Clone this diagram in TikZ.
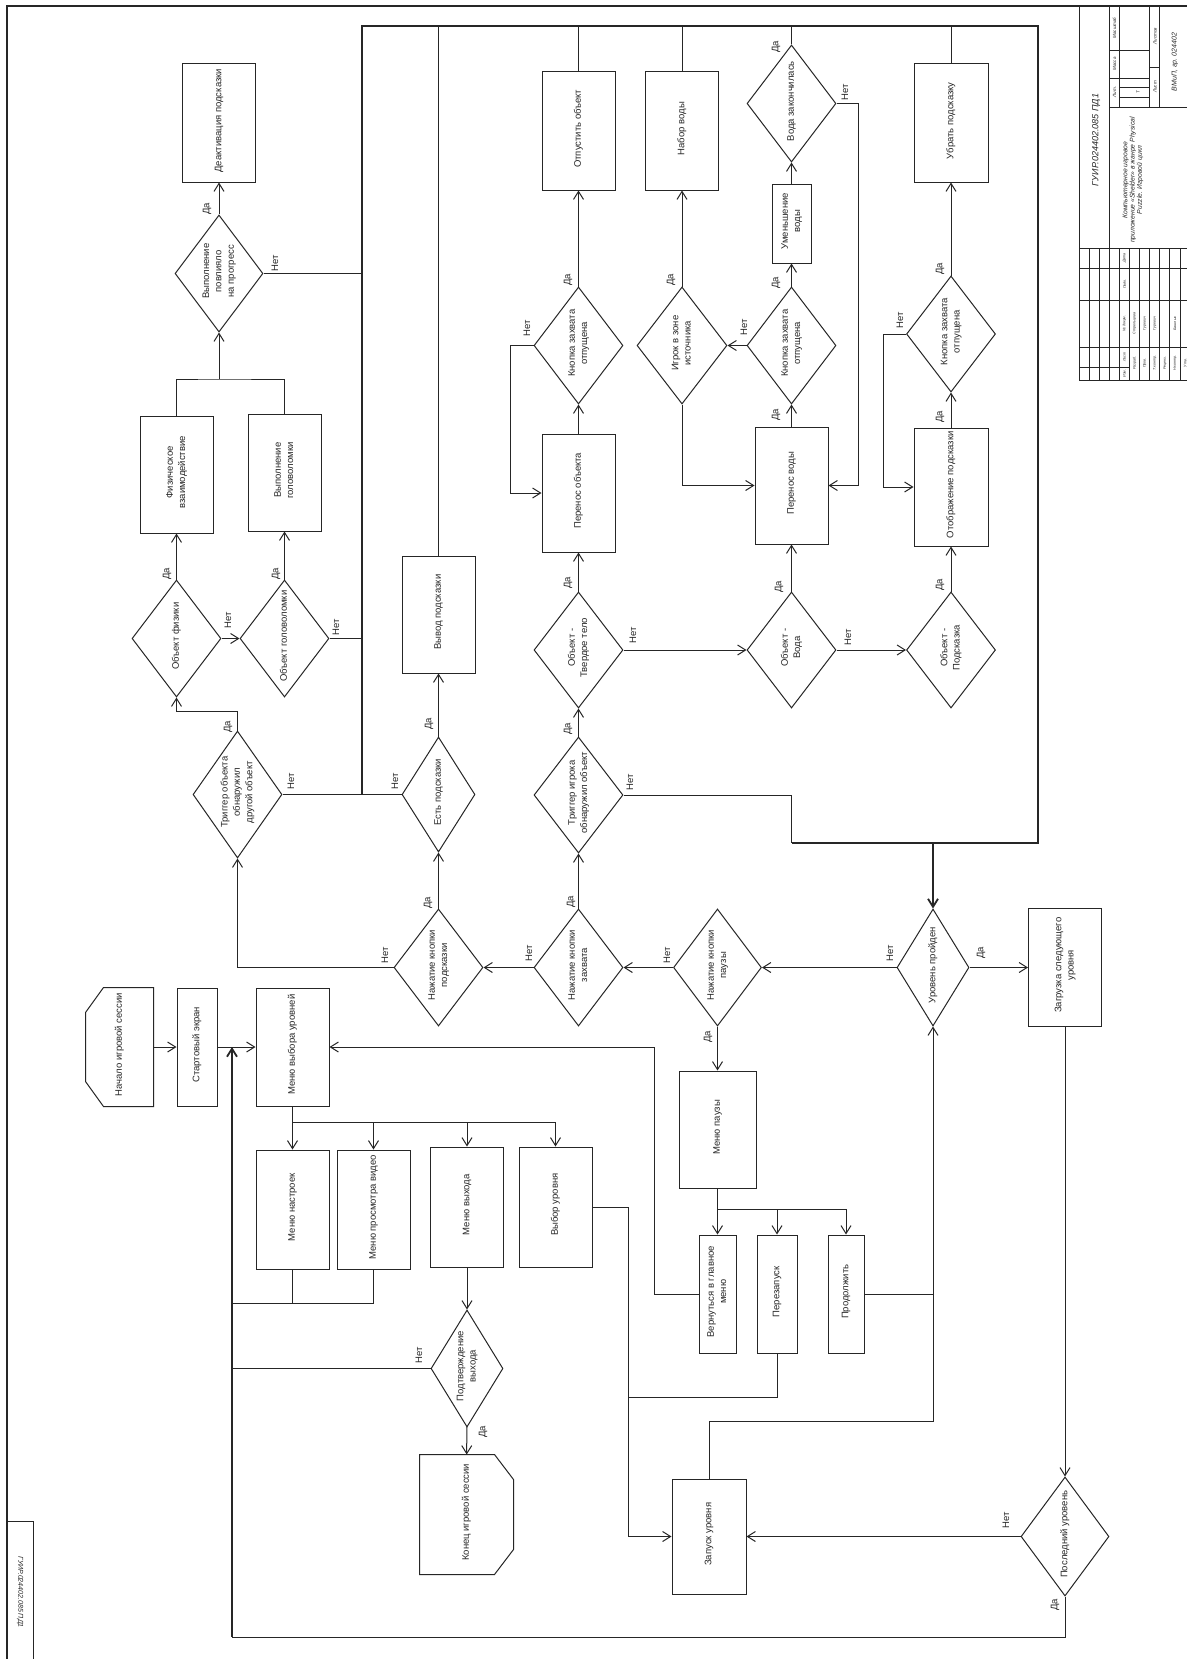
\documentclass[tikz,border=0pt]{standalone}
\usepackage{fontspec}
\setmainfont{Liberation Sans}
\usepackage{graphicx}
\usetikzlibrary{shapes.geometric,arrows.meta,calc}
\newcommand{\rtx}[1]{\makebox[0pt]{\smash{\rotatebox[origin=c]{90}{\begin{tabular}{@{}c@{}}#1\end{tabular}}}}}
\newcommand{\mf}{\fontsize{9.5pt}{12.3pt}\selectfont}
\begin{document}
\begin{tikzpicture}[x=1pt,y=-1pt,line width=1pt,color=black!85,
  bx/.style 2 args={rectangle,draw,minimum width=#1pt,minimum height=#2pt,inner sep=0pt,font=\mf},
  dm/.style 2 args={diamond,draw,minimum width=#1pt,minimum height=#2pt,inner sep=0pt,font=\mf},
  ph/.style 2 args={rectangle,draw=none,minimum width=#1pt,minimum height=#2pt,inner sep=0pt,font=\mf},
  lbl/.style={rotate=90,inner sep=0pt,font=\mf},
  tb/.style={rotate=90,inner sep=0pt,font=\fontsize{3.6pt}{4pt}\selectfont\itshape},
  tbh/.style={rotate=90,inner sep=0pt,font=\fontsize{4.5pt}{5pt}\selectfont\itshape},
  arr/.style={-{Straight Barb[length=8pt,width=10pt]}},
  main/.style={line width=1.8pt}]
\useasboundingbox (0,0) rectangle (1186,1659);
\fill[white] (0,0) rectangle (1186,1659);
% frame
\draw[line width=1.2pt] (7,1670) -- (7,6) -- (1200,6);
\draw (7,1521) -- (33,1521) -- (33,1670);
\node[rotate=-90,inner sep=0pt,font=\fontsize{7pt}{8pt}\selectfont\itshape] (stamp) at (20,1592) {ГУИР.024402.085 ПД1};
% title block
\begin{scope}[line width=0.9pt]
\draw (1079,6) -- (1079,380) -- (1200,380);
\foreach \yy in {248,268,300,347} \draw (1079,\yy) -- (1200,\yy);
\draw (1079,367) -- (1129.5,367);
\foreach \k in {1,...,10} \draw ({1079+10.1*\k},248) -- ({1079+10.1*\k},380);
\draw (1109.3,6) -- (1109.3,248);
\draw (1109.3,107) -- (1200,107);
\draw (1119.4,6) -- (1119.4,107);
\draw (1149.7,6) -- (1149.7,107);
\draw (1159.8,6) -- (1159.8,107);
\draw (1109.3,78) -- (1149.7,78);
\draw (1109.3,50) -- (1149.7,50);
\draw (1119.4,97.3) -- (1149.7,97.3);
\draw (1119.4,87.7) -- (1149.7,87.7);
\draw (1149.7,67) -- (1159.8,67);
\end{scope}
\node[rotate=90,inner sep=0pt,font=\fontsize{9pt}{10pt}\selectfont\itshape] (tb1) at (1096,140) {ГУИР.024402.085 ПД1};
\node[rotate=90,inner sep=0pt,align=center,font=\fontsize{6.8pt}{7.2pt}\selectfont\itshape] (tb2) at (1133,180) {Компьютерное игровое\\приложение «Shelder» в жанре Physical\\Puzzle. Игровой цикл};
\node[tbh] (tb3) at (1114.5,92) {Лит.};
\node[tbh] (tb4) at (1114.5,64) {Масса};
\node[tbh] (tb5) at (1114.5,28) {Масштаб};
\node[tbh] (tb6) at (1138,92) {Т};
\node[tbh] (tb7) at (1155,87) {Лист};
\node[tbh] (tb8) at (1155,36) {Листов};
\node[rotate=90,inner sep=0pt,font=\fontsize{7pt}{8pt}\selectfont\itshape] (tb9) at (1175,62) {ВМиП, гр. 024402};
\node[tb] (s1) at (1124.5,373.5) {Изм.};
\node[tb] (s2) at (1124.5,357) {Лист};
\node[tb] (s3) at (1124.5,323.5) {№ докум.};
\node[tb] (s4) at (1124.5,284) {Подп.};
\node[tb] (s5) at (1124.5,258) {Дата};
\node[tb] (s6) at (1134.6,363) {Разраб.};
\node[tb] (s7) at (1134.6,323.5) {Стрельцова};
\node[tb] (s8) at (1144.7,363) {Пров.};
\node[tb] (s9) at (1144.7,323.5) {Гуревич};
\node[tb] (s10) at (1154.8,363) {Т.контр.};
\node[tb] (s11) at (1154.8,323.5) {Гуревич};
\node[tb] (s12) at (1164.9,363) {Реценз.};
\node[tb] (s13) at (1175,363) {Н.контр.};
\node[tb] (s14) at (1175,323.5) {Башлык};
\node[tb] (s15) at (1185.1,363) {Утв.};
% ---- upper nodes
\node[bx={73}{118}] (deact) at (219,123) {\rtx{Деактивация подсказки}};
\node[dm={88}{117}] (d1) at (219,273.5) {\rtx{Выполнение\\повлияло\\на прогресс}};
\node[bx={73}{117}] (phys) at (176.5,474.5) {\rtx{Физическое\\взаимодействие}};
\node[bx={73}{117}] (puzz) at (284.5,472.5) {\rtx{Выполнение\\головоломки}};
\node[dm={89}{117}] (d2) at (176.5,638.5) {\rtx{Объект физики}};
\node[dm={89}{117}] (d3) at (284.5,638.5) {\rtx{Объект головоломки}};
\node[dm={89}{127}] (d4) at (237.5,794.5) {\rtx{Триггер объекта\\обнаружил\\другой объект}};
\node[dm={73}{115}] (d5) at (438.5,794.5) {\rtx{Есть подсказки}};
\node[bx={73}{117}] (hintout) at (438.5,614.5) {\rtx{Вывод подсказки}};
\node[bx={73}{118}] (drop) at (578.5,131) {\rtx{Отпустить объект}};
\node[dm={89}{117}] (d8) at (578.5,345.5) {\rtx{Кнопка захвата\\отпущена}};
\node[bx={73}{118}] (carry) at (578.5,493) {\rtx{Перенос объекта}};
\node[dm={89}{116}] (d6) at (578.5,650) {\rtx{Объект -\\Твердое тело}};
\node[dm={89}{116}] (d7) at (578.5,795) {\rtx{Триггер игрока\\обнаружил объект}};
\node[bx={73}{118}] (fill) at (682,131) {\rtx{Набор воды}};
\node[dm={90}{117}] (d9) at (682,345.5) {\rtx{Игрок в зоне\\источника}};
\node[dm={89}{117}] (d11) at (791.5,103.5) {\rtx{Вода закончилась}};
\node[bx={39}{79}] (dec) at (791.5,223.5) {\rtx{Уменьшение\\воды}};
\node[dm={89}{117}] (d10) at (791.5,345.5) {\rtx{Кнопка захвата\\отпущена}};
\node[bx={73}{117}] (water) at (791.5,485.5) {\rtx{Перенос воды}};
\node[dm={89}{116}] (d13) at (791.5,650) {\rtx{Объект -\\Вода}};
\node[bx={74}{118}] (remove) at (951,123) {\rtx{Убрать подсказку}};
\node[dm={89}{116}] (d12) at (951,334) {\rtx{Кнопка захвата\\отпущена}};
\node[bx={74}{118}] (show) at (951,487) {\rtx{Отображение подсказки}};
\node[dm={89}{116}] (d14) at (951,650) {\rtx{Объект -\\Подсказка}};
% ---- lower nodes
\node[ph={67}{118}] (begin) at (119.5,1047) {\rtx{Начало игровой сессии}};
\node[bx={40}{118}] (startscr) at (197,1047) {\rtx{Стартовый экран}};
\node[bx={73}{118}] (levelmenu) at (292.5,1047) {\rtx{Меню выбора уровней}};
\node[bx={73}{119}] (settings) at (292.5,1209.5) {\rtx{Меню настроек}};
\node[bx={73}{119}] (video) at (373.5,1209.5) {\rtx{Меню просмотра видео}};
\node[bx={73}{120}] (exitmenu) at (467,1207) {\rtx{Меню выхода}};
\node[bx={73}{120}] (levelsel) at (555.5,1207) {\rtx{Выбор уровня}};
\node[dm={72}{117}] (d19) at (467,1368.5) {\rtx{Подтверждение\\выхода}};
\node[ph={93}{119}] (fin) at (466.5,1514.5) {\rtx{Конец игровой сессии}};
\node[dm={89}{117}] (d15) at (438.5,967.5) {\rtx{Нажатие кнопки\\подсказки}};
\node[dm={89}{117}] (d16) at (578.5,967.5) {\rtx{Нажатие кнопки\\захвата}};
\node[dm={88}{117}] (d17) at (717.5,967.5) {\rtx{Нажатие кнопки\\паузы}};
\node[bx={77}{117}] (pause) at (717.5,1129.5) {\rtx{Меню паузы}};
\node[bx={37}{118}] (back) at (717.5,1294) {\rtx{Вернуться в главное\\меню}};
\node[bx={40}{118}] (restart) at (777,1294) {\rtx{Перезапуск}};
\node[bx={36}{118}] (cont) at (846,1294) {\rtx{Продолжить}};
\node[dm={72}{117}] (d18) at (933,967.5) {\rtx{Уровень пройден}};
\node[bx={73}{118}] (next) at (1065,967.5) {\rtx{Загрузка следующего\\уровня}};
\node[dm={88}{119}] (d20) at (1065,1536.5) {\rtx{Последний уровень}};
\node[bx={74}{115}] (launch) at (709,1536.5) {\rtx{Запуск уровня}};
% special shapes
\draw (begin.north east) -- (begin.south east) -- ([xshift=18pt]begin.south west) -- ([yshift=25pt]begin.south west) -- ([yshift=-25pt]begin.north west) -- ([xshift=18pt]begin.north west) -- cycle;
\draw (fin.north west) -- ([xshift=-19pt]fin.north east) -- ([yshift=-25pt]fin.north east) -- ([yshift=25pt]fin.south east) -- ([xshift=-19pt]fin.south east) -- (fin.south west) -- cycle;
% coordinates
\coordinate (tl) at (362,26);
\coordinate (tr) at (1038,26);
\coordinate (br) at (1038,843);
\coordinate (bj) at (933,843);
\coordinate (ml) at (362,794.5);
\coordinate (pj) at (791.5,843);
\coordinate (pj1) at (219,379);
\coordinate (lb) at (232,1637);
\coordinate (lt) at (232,1047);
\coordinate (mb) at (292.5,1122);
\coordinate (sb) at (232,1303);
\coordinate (pb) at (717.5,1209);
\coordinate (rj) at (628,1397);
% upper connectors
\draw[main,arr] (ml) -- (tl) -- (tr) -- (br) -- (bj) -- (d18.north);
\draw[main] (pj) -- (bj);
\draw[arr] (d1) -- (deact);
\draw (d1.east) -- (d1.east -| tl);
\draw (phys.north) |- (pj1) -| (puzz.north);
\draw[arr] (pj1) -- (d1.south);
\draw[arr] (d2) -- (phys);
\draw[arr] (d3) -- (puzz);
\draw[arr] (d2) -- (d3);
\draw (d3.east) -- (d3.east -| tl);
\draw[arr] (d4.north) -- ++(0,-19) -| (d2.south);
\draw (d4.east) -- (d5.west);
\draw[arr] (d5) -- (hintout);
\draw (hintout.north) -- (hintout.north |- tl);
\draw (drop.north) -- (drop.north |- tl);
\draw (fill.north) -- (fill.north |- tl);
\draw (d11.north) -- (d11.north |- tl);
\draw (remove.north) -- (remove.north |- tl);
\draw[arr] (d8) -- (drop);
\draw[arr] (d8.west) -- ++(-23,0) |- (carry.west);
\draw[arr] (carry) -- (d8);
\draw[arr] (d6) -- (carry);
\draw[arr] (d7) -- (d6);
\draw (d7.east) -| (pj);
\draw[arr] (d6) -- (d13);
\draw[arr] (d9) -- (fill);
\draw[arr] (d9.south) |- (water.west);
\draw[arr] (d10) -- (d9);
\draw[arr] (d10) -- (dec);
\draw[arr] (dec) -- (d11);
\draw[arr] (d11.east) -- ++(22,0) |- (water.east);
\draw[arr] (water) -- (d10);
\draw[arr] (d13) -- (water);
\draw[arr] (d13) -- (d14);
\draw[arr] (d14) -- (show);
\draw[arr] (show) -- (d12);
\draw[arr] (d12) -- (remove);
\draw[arr] (d12.west) -- ++(-23,0) |- (show.west);
% lower connectors
\draw[arr] (begin) -- (startscr);
\draw[arr] (startscr) -- (levelmenu);
\draw[main,arr] (lb) -- (lt);
\draw (d20.south) |- (lb);
\draw[arr] (levelmenu) -- (settings);
\draw[arr] (mb) -| (video.north);
\draw[arr] (mb) -| (exitmenu.north);
\draw[arr] (mb) -| (levelsel.north);
\draw (settings.south) -- (settings.south |- sb);
\draw (video.south) |- (sb);
\draw[arr] (exitmenu) -- (d19);
\draw (d19.west) -- (d19.west -| lb);
\draw[arr] (d19) -- (fin);
\draw[arr] (levelsel.east) -- ++(36,0) |- (launch.west);
\draw (restart.south) |- (rj);
\draw[arr] (back.west) -- ++(-44,0) |- (levelmenu.east);
\draw[arr] (d17) -- (pause);
\draw[arr] (pause) -- (back);
\draw[arr] (pb) -| (restart.north);
\draw[arr] (pb) -| (cont.north);
\draw (cont.east) -- (cont.east -| d18.south);
\draw[arr] (launch.north) -- ++(0,-57) -| (d18.south);
\draw[arr] (d18) -- (d17);
\draw[arr] (d17) -- (d16);
\draw[arr] (d16) -- (d15);
\draw[arr] (d15.west) -| (d4.south);
\draw[arr] (d15) -- (d5);
\draw[arr] (d16) -- (d7);
\draw[arr] (d18) -- (next);
\draw[arr] (next) -- (d20);
\draw[arr] (d20) -- (launch);
% labels
\node[lbl] (la1) at (207,209) {Да};
\node[lbl] (la2) at (275,263) {Нет};
\node[lbl] (la3) at (167,574) {Да};
\node[lbl] (la4) at (228,620) {Нет};
\node[lbl] (la5) at (276,574) {Да};
\node[lbl] (la6) at (336,627) {Нет};
\node[lbl] (la7) at (228,727) {Да};
\node[lbl] (la8) at (291,781) {Нет};
\node[lbl] (la9) at (395,781) {Нет};
\node[lbl] (la10) at (429,724) {Да};
\node[lbl] (la11) at (568,583) {Да};
\node[lbl] (la12) at (633,635) {Нет};
\node[lbl] (la13) at (568,729) {Да};
\node[lbl] (la14) at (630,782) {Нет};
\node[lbl] (la15) at (568,280) {Да};
\node[lbl] (la16) at (527,328) {Нет};
\node[lbl] (la17) at (671,280) {Да};
\node[lbl] (la18) at (744,327) {Нет};
\node[lbl] (la19) at (776,283) {Да};
\node[lbl] (la20) at (776,47) {Да};
\node[lbl] (la21) at (845,92) {Нет};
\node[lbl] (la22) at (776,415) {Да};
\node[lbl] (la23) at (940,269) {Да};
\node[lbl] (la24) at (900,320) {Нет};
\node[lbl] (la25) at (940,417) {Да};
\node[lbl] (la26) at (779,587) {Да};
\node[lbl] (la27) at (848,637) {Нет};
\node[lbl] (la28) at (940,585) {Да};
\node[lbl] (la29) at (385,955) {Нет};
\node[lbl] (la30) at (428,903) {Да};
\node[lbl] (la31) at (529,953) {Нет};
\node[lbl] (la32) at (571,902) {Да};
\node[lbl] (la33) at (667,955) {Нет};
\node[lbl] (la34) at (708,1037) {Да};
\node[lbl] (la35) at (890,953) {Нет};
\node[lbl] (la36) at (981,953) {Да};
\node[lbl] (la37) at (419,1355) {Нет};
\node[lbl] (la38) at (483,1432) {Да};
\node[lbl] (la39) at (1006,1520) {Нет};
\node[lbl] (la40) at (1055,1605) {Да};
\end{tikzpicture}
\end{document}
